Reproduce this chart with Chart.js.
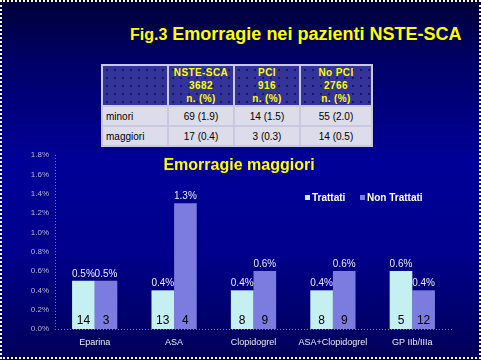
<!DOCTYPE html>
<html>
<head>
<meta charset="utf-8">
<script src="https://cdn.jsdelivr.net/npm/chart.js"></script>
<style>
  html, body { margin: 0; padding: 0; }
  body {
    width: 481px; height: 360px; overflow: hidden; position: relative;
    font-family: "Liberation Sans", Arial, sans-serif;
    background: linear-gradient(to bottom, #000038 0%, #00006a 18%, #000098 45%, #00008c 70%, #000058 100%);
  }
  #frame {
    position: absolute; left: 0; top: 0; width: 477px; height: 355px;
    border: 2px dotted #ffffff;
  }
  #title {
    position: absolute; left: 130px; top: 24px; color: #ffff00; font-weight: bold;
    font-size: 18px; white-space: nowrap;
  }
  #title .fig { font-size: 16px; }
  #tbl {
    position: absolute; left: 101px; top: 64px; border-collapse: collapse;
    font-size: 10px; color: #000;
  }
  #tbl td { border: 2px solid #c8c8e0; padding: 0; text-align: center; }
  #tbl tr.head td {
    background-color: #333399;
    background-image: radial-gradient(#181860 0.8px, transparent 1px);
    background-size: 8px 8px;
    color: #ffff00; font-weight: bold; height: 39px; line-height: 13px; letter-spacing: 0.4px;
  }
  #tbl tr.row td { background: #dcdcea; height: 18px; }
  #tbl tr.row td.lab { text-align: left; padding-left: 3px; }
  #chart { position: absolute; left: 0; top: 0; }
</style>
</head>
<body>
<div id="title"><span class="fig">Fig.3</span> Emorragie nei pazienti NSTE-SCA</div>
<table id="tbl">
  <tr class="head">
    <td style="width:64px"></td>
    <td style="width:64px">NSTE-SCA<br>3682<br>n. (%)</td>
    <td style="width:64px">PCI<br>916<br>n. (%)</td>
    <td style="width:70px">No PCI<br>2766<br>n. (%)</td>
  </tr>
  <tr class="row"><td class="lab">minori</td><td>69 (1.9)</td><td>14 (1.5)</td><td>55 (2.0)</td></tr>
  <tr class="row"><td class="lab">maggiori</td><td>17 (0.4)</td><td>3 (0.3)</td><td>14 (0.5)</td></tr>
</table>
<canvas id="chart" width="481" height="360"></canvas>
<div id="frame"></div>
<script>
// categories and values (percent of patients with major bleeding)
const categories = ['Eparina', 'ASA', 'Clopidogrel', 'ASA+Clopidogrel', 'GP IIb/IIIa'];
const trattati = [0.5, 0.4, 0.4, 0.4, 0.6];
const nonTrattati = [0.5, 1.3, 0.6, 0.6, 0.4];
// number of events shown inside the bars
const nTrattati = [14, 13, 8, 8, 5];
const nNonTrattati = [3, 4, 9, 9, 12];
const yTicks = [0, 0.2, 0.4, 0.6, 0.8, 1.0, 1.2, 1.4, 1.6, 1.8];

const colTrattati = '#c4f0f2';
const colNonTrattati = '#7c7ce0';

// dotted axis lines (the scale border can't be dashed in v4)
const dottedAxes = {
    id: 'dottedAxes',
    beforeDatasetsDraw(chart) {
        const { ctx, chartArea: a } = chart;
        ctx.save();
        ctx.strokeStyle = '#7a7ab4';
        ctx.lineWidth = 1;
        ctx.setLineDash([1, 2]);
        ctx.beginPath();
        ctx.moveTo(a.left + 0.5, a.top);
        ctx.lineTo(a.left + 0.5, a.bottom);
        ctx.moveTo(a.left, a.bottom + 0.5);
        ctx.lineTo(a.right, a.bottom + 0.5);
        ctx.stroke();
        ctx.restore();
    }
};

// chart title, legend and value labels drawn over the plot area
const overlay = {
    id: 'overlay',
    afterDatasetsDraw(chart) {
        const ctx = chart.ctx;
        ctx.save();
        const counts = [nTrattati, nNonTrattati];
        chart.data.datasets.forEach((ds, i) => {
            const meta = chart.getDatasetMeta(i);
            meta.data.forEach((bar, j) => {
                ctx.textAlign = 'center';
                ctx.textBaseline = 'alphabetic';
                ctx.fillStyle = '#ececf8';
                ctx.font = '10px "Liberation Sans", Arial';
                ctx.fillText(ds.data[j].toFixed(1) + '%', bar.x, bar.y - 4);
                ctx.fillStyle = '#000000';
                ctx.font = '12px "Liberation Sans", Arial';
                ctx.fillText(counts[i][j], bar.x, bar.base - 5);
            });
        });
        // title
        ctx.fillStyle = '#ffff00';
        ctx.font = 'bold 16px "Liberation Sans", Arial';
        ctx.textAlign = 'center';
        ctx.fillText('Emorragie maggiori', 239, 170);
        // legend
        ctx.font = 'bold 10px "Liberation Sans", Arial';
        ctx.textAlign = 'left';
        ctx.textBaseline = 'middle';
        const items = [['Trattati', colTrattati, 305], ['Non Trattati', colNonTrattati, 360]];
        items.forEach(it => {
            ctx.fillStyle = it[1];
            ctx.fillRect(it[2], 195, 5, 5);
            ctx.fillStyle = '#ffffff';
            ctx.fillText(it[0], it[2] + 7, 198);
        });
        ctx.restore();
    }
};

new Chart(document.getElementById('chart'), {
    type: 'bar',
    data: {
        labels: categories,
        datasets: [
            { label: 'Trattati', data: trattati, backgroundColor: colTrattati,
              categoryPercentage: 0.57, barPercentage: 1.0 },
            { label: 'Non Trattati', data: nonTrattati, backgroundColor: colNonTrattati,
              categoryPercentage: 0.57, barPercentage: 1.0 }
        ]
    },
    options: {
        responsive: false,
        animation: false,
        layout: { padding: { top: 155, right: 29, bottom: 8, left: 0 } },
        scales: {
            x: {
                grid: { display: false, drawTicks: false },
                border: { display: false },
                ticks: { color: '#ececf4', font: { family: '"Liberation Sans", Arial', size: 9 }, padding: 8 },
                afterFit: s => { s.height = 23; }
            },
            y: {
                min: 0, max: 1.8,
                grid: { display: false, drawTicks: false },
                border: { display: false },
                afterBuildTicks: s => { s.ticks = yTicks.map(v => ({ value: v })); },
                ticks: {
                    color: '#b8b8cc', font: { family: '"Liberation Sans", Arial', size: 8 }, padding: 6,
                    callback: v => v.toFixed(1) + '%'
                },
                afterFit: s => { s.width = 55; }
            }
        },
        plugins: {
            legend: { display: false },
            title: { display: false },
            tooltip: { enabled: false }
        }
    },
    plugins: [dottedAxes, overlay]
});
</script>
</body>
</html>
